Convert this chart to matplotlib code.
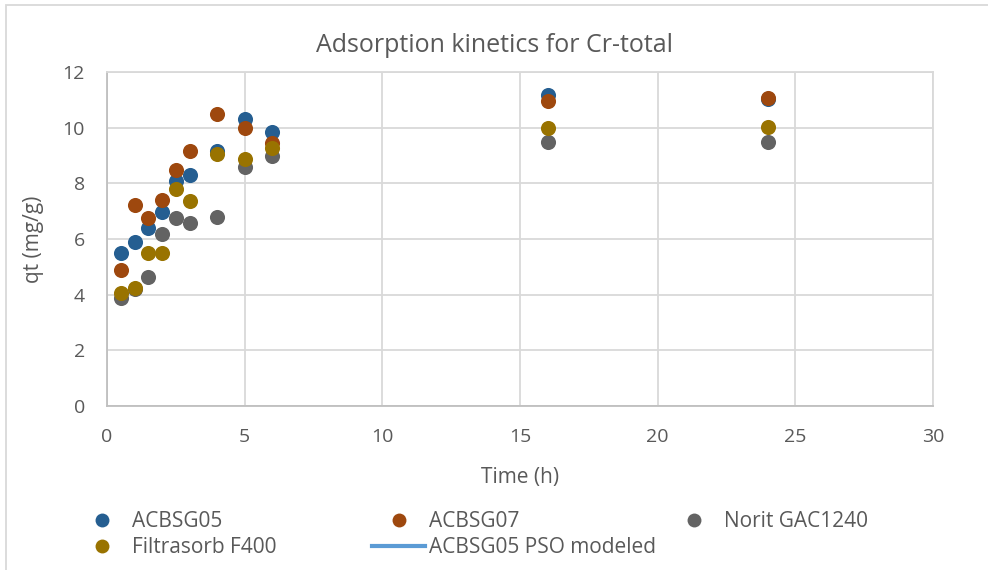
import matplotlib.pyplot as plt
from matplotlib.lines import Line2D
from matplotlib.patches import Rectangle

plt.rcParams['font.family'] = ['Open Sans', 'DejaVu Sans']

time_h = [0.5, 1, 1.5, 2, 2.5, 3, 4, 5, 6, 16, 24]
acbsg05 = [5.49, 5.90, 6.38, 6.96, 8.10, 8.31, 9.16, 10.30, 9.86, 11.18, 11.03]
acbsg07 = [4.89, 7.22, 6.77, 7.40, 8.48, 9.17, 10.49, 10.00, 9.46, 10.97, 11.08]
norit = [3.87, 4.20, 4.62, 6.17, 6.74, 6.56, 6.78, 8.58, 8.98, 9.50, 9.50]
filtrasorb = [4.05, 4.25, 5.49, 5.49, 7.78, 7.37, 9.04, 8.86, 9.26, 9.98, 10.04]

series = [
    ('ACBSG05', acbsg05, '#255E91'),
    ('ACBSG07', acbsg07, '#9E480E'),
    ('Norit GAC1240', norit, '#636363'),
    ('Filtrasorb F400', filtrasorb, '#997300'),
]

text_col = '#595959'
grid_col = '#D9D9D9'
W, H = 988, 570

fig = plt.figure(figsize=(W / 100, H / 100), dpi=100)
ax = fig.add_axes([107 / W, 1 - 406 / H, (933 - 107) / W, (406 - 72) / H])

for name, vals, col in series:
    ax.scatter(time_h, vals, s=118, color=col, label=name, zorder=3, linewidths=0)

ax.set_xlim(0, 30)
ax.set_ylim(0, 12)
ax.set_xticks(range(0, 31, 5))
ax.set_yticks(range(0, 13, 2))
ax.grid(True, color=grid_col, linewidth=1.3)
ax.set_axisbelow(True)
for sp in ax.spines.values():
    sp.set_color(grid_col)
    sp.set_linewidth(1.3)
ax.spines['left'].set_color('#BFBFBF')
ax.spines['bottom'].set_color('#BFBFBF')
ax.tick_params(axis='both', length=0, labelsize=14, colors=text_col)
ax.tick_params(axis='x', pad=16)
ax.tick_params(axis='y', pad=16)

fig.text(0.5, 1 - 46 / H, 'Adsorption kinetics for Cr-total', fontsize=18,
         color=text_col, ha='center', va='center')
ax.set_xlabel('Time (h)', fontsize=15, color=text_col, va='center')
ax.xaxis.set_label_coords(0.5, (406 - 477) / 334)
ax.set_ylabel('qt (mg/g)', fontsize=15, color=text_col, va='center')
ax.yaxis.set_label_coords((33 - 107) / 826, 0.5)

dots = {name: Line2D([], [], marker='o', linestyle='none', markersize=10,
                     color=col, markeredgewidth=0) for name, _, col in series}
pso = Line2D([], [], color='#5B9BD5', linewidth=3)

columns = [
    (75, [dots['ACBSG05'], dots['Filtrasorb F400']], ['ACBSG05', 'Filtrasorb F400']),
    (372, [dots['ACBSG07'], pso], ['ACBSG07', 'ACBSG05 PSO modeled']),
    (667, [dots['Norit GAC1240']], ['Norit GAC1240']),
]
for x0, hs, ls in columns:
    leg = fig.legend(hs, ls, loc='upper left', bbox_to_anchor=(x0 / W, 1 - 511 / H),
                     frameon=False, fontsize=15, handlelength=2.55, handletextpad=0.2,
                     labelspacing=0.25, borderpad=0, borderaxespad=0,
                     labelcolor=text_col)

fig.patches.append(Rectangle((6 / W, -0.1), 1.2, 1.1 - 5 / H, transform=fig.transFigure,
                             fill=False, edgecolor='#D9D9D9', linewidth=1.3))

fig.savefig('out.png', dpi=100)
